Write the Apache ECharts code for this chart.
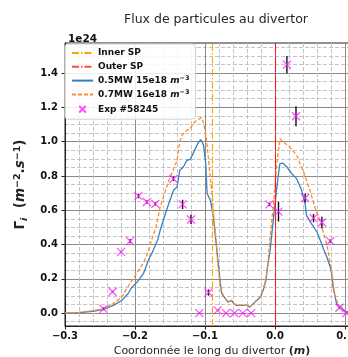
<!DOCTYPE html>
<html>
<head>
<meta charset="utf-8">
<script src="https://cdn.jsdelivr.net/npm/echarts@6/dist/echarts.min.js"></script>
<style>
  html, body { margin: 0; padding: 0; background: #fff; }
  #chart { width: 348px; height: 357px; }
</style>
</head>
<body>
<div id="chart"></div>
<script>
// Strike points (m)
const innerSP = -0.092;
const outerSP = 0.0;

// Simulated particle flux, 0.5 MW / 15e18 m^-3 (units of 1e24)
const blueX = [-0.300, -0.280, -0.260, -0.245, -0.231, -0.219, -0.210, -0.205, -0.197, -0.188,
  -0.181, -0.174, -0.167, -0.164, -0.155, -0.145, -0.140, -0.136, -0.131, -0.126,
  -0.121, -0.117, -0.110, -0.106, -0.102, -0.099, -0.097, -0.092, -0.088, -0.085,
  -0.083, -0.080, -0.078, -0.076, -0.074, -0.071, -0.067, -0.062, -0.059, -0.055,
  -0.048, -0.040, -0.036, -0.031, -0.026, -0.021, -0.017, -0.013, -0.010, -0.007,
  -0.002, 0.001, 0.005, 0.007, 0.011, 0.017, 0.024, 0.031, 0.038, 0.043,
  0.045, 0.052, 0.060, 0.067, 0.070, 0.074, 0.079, 0.081, 0.083, 0.086,
  0.088, 0.093, 0.100, 0.105];
const blueY = [0.000, 0.003, 0.010, 0.022, 0.045, 0.074, 0.113, 0.148, 0.181, 0.230,
  0.307, 0.366, 0.434, 0.483, 0.600, 0.716, 0.735, 0.833, 0.852, 0.890,
  0.897, 0.930, 0.992, 1.012, 0.978, 0.872, 0.697, 0.655, 0.560, 0.440,
  0.366, 0.250, 0.170, 0.113, 0.115, 0.084, 0.064, 0.074, 0.055, 0.045,
  0.045, 0.045, 0.035, 0.055, 0.074, 0.093, 0.132, 0.190, 0.288, 0.366,
  0.560, 0.677, 0.813, 0.872, 0.875, 0.852, 0.813, 0.784, 0.716, 0.638,
  0.570, 0.522, 0.473, 0.400, 0.366, 0.327, 0.268, 0.230, 0.152, 0.093,
  0.055, 0.039, 0.012, 0.004];

// Simulated particle flux, 0.7 MW / 16e18 m^-3 (units of 1e24)
const orangeX = [-0.300, -0.280, -0.260, -0.245, -0.231, -0.219, -0.212, -0.206, -0.198, -0.190,
  -0.183, -0.176, -0.170, -0.164, -0.152, -0.140, -0.136, -0.133, -0.126, -0.121,
  -0.117, -0.112, -0.105, -0.103, -0.100, -0.097, -0.094, -0.090, -0.087, -0.084,
  -0.082, -0.080, -0.077, -0.075, -0.071, -0.067, -0.062, -0.059, -0.055, -0.048,
  -0.040, -0.036, -0.031, -0.026, -0.021, -0.017, -0.013, -0.010, -0.007, -0.002,
  0.002, 0.007, 0.012, 0.021, 0.031, 0.040, 0.050, 0.057, 0.064, 0.070,
  0.075, 0.078, 0.081, 0.083, 0.086, 0.091, 0.100, 0.105];
const orangeY = [0.000, 0.004, 0.015, 0.026, 0.055, 0.093, 0.142, 0.181, 0.230, 0.278,
  0.337, 0.430, 0.500, 0.620, 0.770, 0.890, 1.000, 1.037, 1.066, 1.076,
  1.105, 1.124, 1.140, 1.120, 1.070, 0.980, 0.852, 0.697, 0.540, 0.424,
  0.300, 0.220, 0.140, 0.113, 0.086, 0.066, 0.076, 0.057, 0.047, 0.047,
  0.047, 0.037, 0.057, 0.076, 0.095, 0.135, 0.200, 0.300, 0.443, 0.638,
  0.852, 1.017, 0.998, 0.968, 0.920, 0.832, 0.716, 0.618, 0.541, 0.460,
  0.380, 0.310, 0.249, 0.171, 0.093, 0.050, 0.006, 0.002];

// Measured flux, shot #58245, with vertical uncertainty
const expX = [-0.245, -0.232, -0.220, -0.207, -0.195, -0.183, -0.171, -0.145, -0.132, -0.120,
  -0.108, -0.095, -0.082, -0.070, -0.058, -0.046, -0.034, -0.008, 0.005, 0.017,
  0.030, 0.043, 0.055, 0.067, 0.079, 0.092, 0.102];
const expY = [0.025, 0.125, 0.357, 0.420, 0.682, 0.648, 0.637, 0.783, 0.634, 0.546,
  0.000, 0.120, 0.016, 0.000, 0.000, 0.000, 0.000, 0.634, 0.592, 1.449,
  1.148, 0.671, 0.554, 0.528, 0.420, 0.031, 0.000];
const expErr = [0.008, 0.004, 0.004, 0.012, 0.012, 0.010, 0.010, 0.012, 0.027, 0.027,
  0.003, 0.018, 0.003, 0.002, 0.002, 0.002, 0.002, 0.010, 0.058, 0.050,
  0.058, 0.026, 0.024, 0.034, 0.010, 0.005, 0.003];

// Axis ticks
const xTicks = [-0.3, -0.2, -0.1, 0.0, 0.1];
const yTicks = [0.0, 0.2, 0.4, 0.6, 0.8, 1.0, 1.2, 1.4];
const xRange = [-0.3, 0.12];
const yRange = [-0.075, 1.575];

// Minor grid positions (every 0.02 in x, every 0.05 in y), skipping major ones
function minorSteps(lo, hi, step, majorStep) {
  const out = [];
  const n0 = Math.ceil(lo / step - 1e-9), n1 = Math.floor(hi / step + 1e-9);
  const ratio = Math.round(majorStep / step);
  for (let k = n0; k <= n1; k++) {
    if (k % ratio !== 0) out.push(+(k * step).toFixed(4));
  }
  return out;
}
const xMinor = minorSteps(xRange[0], xRange[1], 0.02, 0.1);
const yMinor = minorSteps(yRange[0], yRange[1], 0.05, 0.2);

const FONT = 'DejaVu Sans';
const zip = (a, b) => a.map((v, i) => [v, b[i]]);
const minus = s => s.replace('-', '\u2212');

const chart = echarts.init(document.getElementById('chart'), null, { renderer: 'canvas' });

const majorGrid = { show: true, lineStyle: { color: '#8a8a8a', width: 1, type: 'solid' } };
const minorGrid = { show: true, lineStyle: { color: '#c4c4c4', width: 1, type: [4, 2] } };

// line-only legend entries: hide the marker drawn in the middle of the line icon
const noMarker = { color: 'rgba(0,0,0,0)', borderWidth: 0, opacity: 0 };

const option = {
  animation: false,
  backgroundColor: '#fff',
  textStyle: { fontFamily: FONT },
  title: [
    { text: 'Flux de particules au divertor', left: 211, top: 8, textAlign: 'center',
      textStyle: { fontFamily: FONT, fontSize: 12.5, fontWeight: 'normal', color: '#262626' } },
    { text: '1e24', left: 63, top: 29,
      textStyle: { fontFamily: FONT, fontSize: 10.5, fontWeight: 'bold', color: '#111' } }
  ],
  grid: { left: 65, width: 294, top: 43, bottom: 31, show: true, borderColor: '#222', borderWidth: 1,
    containLabel: false, outerBoundsMode: 'none' },
  legend: {
    orient: 'vertical', left: 65, top: 44,
    padding: [3, 6, 3, 6], itemGap: 1.8, itemWidth: 21, itemHeight: 12,
    backgroundColor: 'rgba(255,255,255,0.85)', borderColor: '#cfcfcf', borderWidth: 1, borderRadius: 3,
    data: [
      { name: 'Inner SP', itemStyle: noMarker },
      { name: 'Outer SP', itemStyle: noMarker },
      { name: 'blue', itemStyle: noMarker },
      { name: 'orange', itemStyle: noMarker },
      { name: 'exp', icon: 'path://M-4,-4M0,0L10,10M10,0L0,10M14,14' }
    ],
    formatter: name => ({
      'Inner SP': 'Inner SP',
      'Outer SP': 'Outer SP',
      'blue': '0.5MW 15e18 {i|m}{sup|\u22123}',
      'orange': '0.7MW 16e18 {i|m}{sup|\u22123}',
      'exp': 'Exp #58245'
    })[name],
    textStyle: {
      fontFamily: FONT, fontSize: 9, fontWeight: 'bold', color: '#111', lineHeight: 12,
      rich: {
        i: { fontFamily: FONT, fontSize: 9, fontWeight: 'bold', fontStyle: 'italic', color: '#111', lineHeight: 12 },
        sup: { fontFamily: FONT, fontSize: 6.5, fontWeight: 'bold', color: '#111', verticalAlign: 'top', lineHeight: 12 }
      }
    }
  },
  xAxis: [
    {
      type: 'value', min: xRange[0], max: xRange[1], gridIndex: 0,
      name: 'Coordonnée le long du divertor {b|(}{bi|m}{b|)}', nameLocation: 'middle', nameGap: 17,
      nameTextStyle: {
        fontFamily: FONT, fontSize: 11, color: '#262626',
        rich: {
          b: { fontFamily: FONT, fontSize: 11, fontWeight: 'bold', color: '#262626' },
          bi: { fontFamily: FONT, fontSize: 11, fontWeight: 'bold', fontStyle: 'italic', color: '#262626' }
        }
      },
      axisLine: { show: true, onZero: false, lineStyle: { color: '#222', width: 1 } },
      axisTick: { show: true, inside: false, length: 3.5, customValues: xTicks, lineStyle: { color: '#222' } },
      axisLabel: { customValues: xTicks, margin: 5, formatter: v => minus(v.toFixed(1)),
        fontFamily: FONT, fontSize: 10, fontWeight: 'bold', color: '#111' },
      splitLine: majorGrid
    },
    {
      type: 'value', min: xRange[0], max: xRange[1], gridIndex: 0, position: 'bottom',
      axisLine: { show: false }, axisLabel: { show: false },
      axisTick: { show: false, customValues: xMinor },
      splitLine: minorGrid
    }
  ],
  yAxis: [
    {
      type: 'value', min: yRange[0], max: yRange[1],
      name: '{g|\u0393}{sub|i}{g|  (}{i|m}{sup|\u22122}{g|.}{i|s}{sup|\u22121}{g|)}',
      nameLocation: 'middle', nameGap: 23, nameRotate: 90,
      nameTextStyle: {
        fontFamily: FONT, fontSize: 13, fontWeight: 'bold', color: '#222',
        rich: {
          g: { fontFamily: FONT, fontSize: 13.5, fontWeight: 'bold', color: '#222', lineHeight: 17 },
          i: { fontFamily: FONT, fontSize: 13.5, fontWeight: 'bold', fontStyle: 'italic', color: '#222', lineHeight: 17 },
          sub: { fontFamily: FONT, fontSize: 9.5, fontWeight: 'bold', fontStyle: 'italic', color: '#222', verticalAlign: 'bottom', lineHeight: 17 },
          sup: { fontFamily: FONT, fontSize: 9.5, fontWeight: 'bold', color: '#222', verticalAlign: 'top', lineHeight: 17 }
        }
      },
      axisLine: { show: true, onZero: false, lineStyle: { color: '#222', width: 1 } },
      axisTick: { show: true, inside: false, length: 3.5, customValues: yTicks, lineStyle: { color: '#222' } },
      axisLabel: { customValues: yTicks, margin: 7, formatter: v => v.toFixed(1),
        fontFamily: FONT, fontSize: 10, fontWeight: 'bold', color: '#111' },
      splitLine: majorGrid
    },
    {
      type: 'value', min: yRange[0], max: yRange[1], position: 'left',
      axisLine: { show: false }, axisLabel: { show: false },
      axisTick: { show: false, customValues: yMinor },
      splitLine: minorGrid
    }
  ],
  series: [
    {
      name: 'Inner SP', type: 'line', data: [], symbol: 'none',
      lineStyle: { color: '#ffa500', width: 1.2, type: [7, 2, 1.5, 2] },
      itemStyle: { color: '#ffa500' },
      markLine: {
        silent: true, symbol: 'none', label: { show: false },
        lineStyle: { color: '#ffa500', width: 1.1, type: [7, 2, 1.5, 2] },
        data: [{ xAxis: innerSP }]
      }
    },
    {
      name: 'Outer SP', type: 'line', data: [], symbol: 'none',
      lineStyle: { color: '#ff4a4a', width: 1.2, type: [7, 2, 1.5, 2] },
      itemStyle: { color: '#ff4a4a' },
      markLine: {
        silent: true, symbol: 'none', label: { show: false },
        lineStyle: { color: '#ff1a1a', width: 1.1, type: [16, 1, 1.5, 1] },
        data: [{ xAxis: outerSP }]
      }
    },
    {
      name: 'blue', type: 'line', data: zip(blueX, blueY), symbol: 'none', showSymbol: false,
      lineStyle: { color: '#3a7fc0', width: 1.3 }, itemStyle: { color: '#3a7fc0' }, z: 3
    },
    {
      name: 'orange', type: 'line', data: zip(orangeX, orangeY), symbol: 'none', showSymbol: false,
      lineStyle: { color: '#ff8c2a', width: 1.3, type: [4, 2] }, itemStyle: { color: '#ff8c2a' }, z: 4
    },
    {
      name: 'exp-err', type: 'custom', z: 5,
      data: expX.map((x, i) => [x, expY[i], expErr[i]]),
      encode: { x: 0, y: 1 },
      renderItem: (params, api) => {
        const x = api.value(0), y = api.value(1), e = api.value(2);
        const p1 = api.coord([x, y - e]);
        const p2 = api.coord([x, y + e]);
        return { type: 'line', shape: { x1: p1[0], y1: p1[1], x2: p2[0], y2: p2[1] },
          style: { stroke: '#111', lineWidth: 1.4 } };
      }
    },
    {
      name: 'exp', type: 'scatter', z: 6,
      data: zip(expX, expY),
      symbol: 'path://M0,0L10,10M10,0L0,10', symbolSize: 8,
      itemStyle: { color: 'rgba(0,0,0,0)', borderColor: '#ff22ff', borderWidth: 1.3 }
    }
  ]
};

chart.setOption(option);
</script>
</body>
</html>
